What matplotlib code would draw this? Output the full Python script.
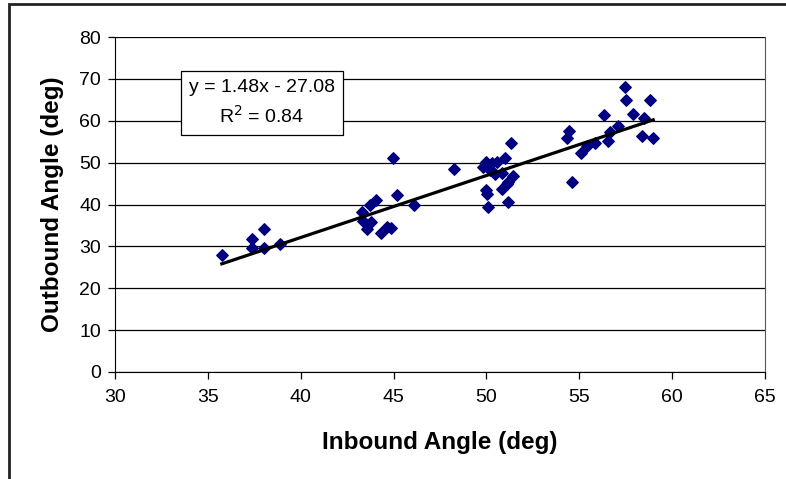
import matplotlib
matplotlib.use('Agg')
import matplotlib.pyplot as plt
import numpy as np
from matplotlib.patches import Rectangle

plt.rcParams['font.family'] = ['Liberation Sans', 'DejaVu Sans']

# inbound / outbound angles (deg)
inbound = [35.75, 37.36, 37.36, 38.04, 38.04, 38.88,
           44.99, 48.27, 43.28, 43.73, 44.05, 45.16, 46.1, 43.37, 43.79,
           43.55, 44.3, 44.62, 44.86,
           51.33, 49.83, 50.0, 50.28, 50.55, 51.0, 50.2, 50.46, 50.82,
           51.44, 51.17, 50.82, 49.98, 50.02, 50.07, 51.17, 51.09,
           57.46, 57.52, 58.81, 56.35, 57.87, 58.5, 57.1, 56.66, 54.46,
           54.32, 56.56, 55.85, 55.4, 55.08, 58.35, 58.98, 54.62]
outbound = [27.9, 31.7, 29.7, 34.2, 29.7, 30.5,
            51.2, 48.4, 38.3, 40.0, 41.0, 42.2, 39.9, 36.1, 35.9,
            34.1, 33.1, 34.7, 34.5,
            54.8, 49.0, 50.2, 49.8, 50.2, 51.2, 48.2, 47.4, 47.6,
            46.8, 45.4, 43.8, 43.4, 42.6, 39.5, 40.7, 45.0,
            68.1, 64.9, 64.9, 61.3, 61.7, 60.7, 58.8, 57.4, 57.6,
            56.0, 55.1, 54.7, 53.9, 52.2, 56.3, 55.9, 45.4]

slope = 1.48
intercept = -27.08
r2 = 0.84

fig = plt.figure(figsize=(7.86, 4.79), dpi=100)
ax = fig.add_axes([115/786, 1 - 372/479, 650/786, 335/479])

# outer chart frame
fig.patches.append(Rectangle((9/786, -0.1), 1.2, 1 - 4/479 + 0.1,
                             transform=fig.transFigure, fill=False,
                             edgecolor='#222222', linewidth=2))

ax.scatter(inbound, outbound, marker='D', s=34, color='#000080', zorder=3)

xs = np.array([min(inbound), max(inbound)])
ax.plot(xs, slope * xs + intercept, color='black', linewidth=2.3, zorder=4)

ax.set_xlim(30, 65)
ax.set_ylim(0, 80)
ax.set_xticks(np.arange(30, 66, 5))
ax.set_yticks(np.arange(0, 81, 10))
ax.yaxis.grid(True, color='black', linewidth=0.9)
ax.set_axisbelow(True)
ax.tick_params(direction='out', length=5, width=0.9, labelsize=14)
ax.tick_params(axis='x', pad=7)
ax.tick_params(axis='y', pad=5)
for side in ['left', 'bottom']:
    ax.spines[side].set_color('black')
ax.spines['right'].set_color('#555555')
ax.spines['top'].set_visible(False)

ax.set_xlabel('Inbound Angle (deg)', fontsize=17.5, fontweight='bold')
ax.set_ylabel('Outbound Angle (deg)', fontsize=17.5, fontweight='bold')
ax.xaxis.set_label_coords(0.5, -(442 - 372) / 335, transform=ax.transAxes)
ax.yaxis.set_label_coords(-(115 - 52) / 650, 0.5, transform=ax.transAxes)
ax.xaxis.label.set_va('center')
ax.yaxis.label.set_va('center')

ax.text(0.226, 0.803, 'y = %.2fx - %.2f\nR$^2$ = %.2f' % (slope, -intercept, r2),
        transform=ax.transAxes, ha='center', va='center', fontsize=14,
        linespacing=1.5, zorder=5,
        bbox=dict(boxstyle='square,pad=0.42', facecolor='white', edgecolor='black', linewidth=0.9))

fig.savefig('out.png', dpi=100)
